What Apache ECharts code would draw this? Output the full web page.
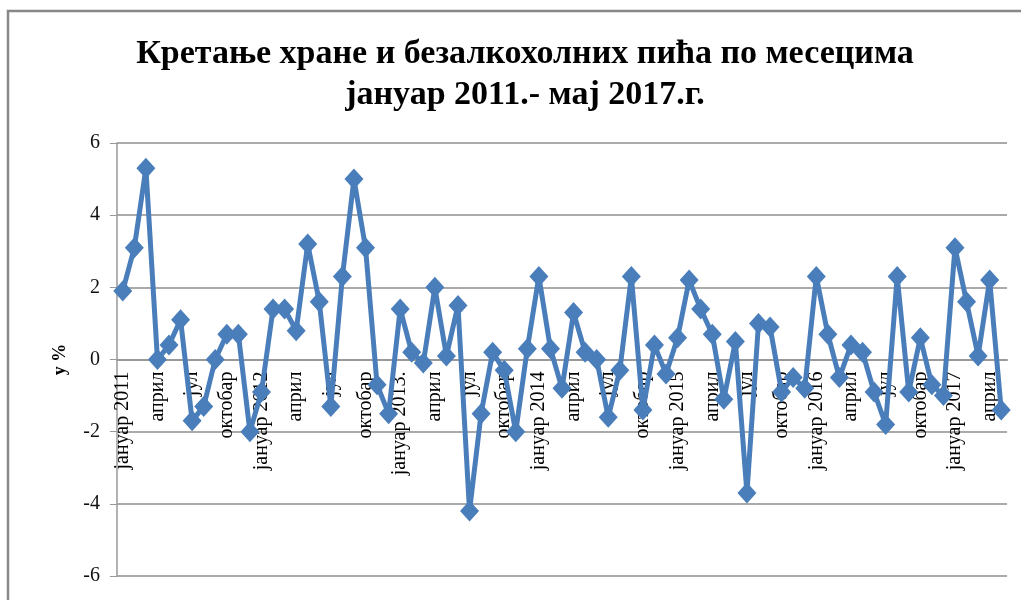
<!DOCTYPE html>
<html lang="sr" style="height: 100%">

<head>
    <meta charset="utf-8">
    <script type="text/javascript" src="https://cdn.jsdelivr.net/npm/echarts@6/dist/echarts.min.js"></script>
</head>

<body style="height: 100%; margin: 0; background: #fff">
    <div id="container" style="width: 1021px; height: 600px"></div>
    <script type="text/javascript">
        var titleText = 'Кретање хране и безалкохолних пића по месецима\nјануар 2011.- мај 2017.г.';
        var yName = 'у %';

        var monthLabels = ['јануар', 'фебруар', 'март', 'април', 'мај', 'јун', 'јул', 'август', 'септембар', 'октобар', 'новембар', 'децембар'];
        var years = ['2011', '2012', '2013.', '2014', '2015', '2016', '2017'];

        // месечне промене, у %
        var v2011 = [1.9, 3.1, 5.3, 0.0, 0.4, 1.1, -1.7, -1.3, 0.0, 0.7, 0.7, -2.0];
        var v2012 = [-0.9, 1.4, 1.4, 0.8, 3.2, 1.6, -1.3, 2.3, 5.0, 3.1, -0.7, -1.5];
        var v2013 = [1.4, 0.2, -0.1, 2.0, 0.1, 1.5, -4.2, -1.5, 0.2, -0.3, -2.0, 0.3];
        var v2014 = [2.3, 0.3, -0.8, 1.3, 0.2, 0.0, -1.6, -0.3, 2.3, -1.4, 0.4, -0.4];
        var v2015 = [0.6, 2.2, 1.4, 0.7, -1.1, 0.5, -3.7, 1.0, 0.9, -0.9, -0.5, -0.8];
        var v2016 = [2.3, 0.7, -0.5, 0.4, 0.2, -0.9, -1.8, 2.3, -0.9, 0.6, -0.7, -1.0];
        var v2017 = [3.1, 1.6, 0.1, 2.2, -1.4];

        var values = [].concat(v2011, v2012, v2013, v2014, v2015, v2016, v2017);
        var categories = [];
        for (var i = 0; i < values.length; i++) {
            var m = i % 12;
            var y = Math.floor(i / 12);
            categories.push(m === 0 ? monthLabels[m] + ' ' + years[y] : monthLabels[m]);
        }

        var serif = '"Liberation Serif", "DejaVu Serif", serif';
        var gridTop = 143, gridBottom = 24;
        var plotH = 600 - gridTop - gridBottom;
        // x оса стоји на нули (Excel), помери је нагоре од дна мреже
        var zeroShift = -plotH / 2;

        var chart = echarts.init(document.getElementById('container'), null, { renderer: 'canvas' });

        var option = {
            backgroundColor: '#fff',
            animation: false,
            title: {
                text: titleText,
                left: 520,
                textAlign: 'center',
                top: 29,
                textStyle: {
                    fontFamily: serif,
                    fontWeight: 'bold',
                    fontSize: 34,
                    lineHeight: 41,
                    color: '#000'
                }
            },
            graphic: [{
                type: 'rect',
                shape: { x: 8, y: 11, width: 1040, height: 620 },
                style: { fill: 'none', stroke: '#888', lineWidth: 2.5 },
                silent: true
            }],
            grid: { left: 117, right: 14, top: gridTop, bottom: gridBottom, containLabel: false, outerBoundsMode: 'none' },
            xAxis: {
                type: 'category',
                data: categories,
                boundaryGap: true,
                offset: zeroShift,
                axisLine: { onZero: false, lineStyle: { color: '#999', width: 2 } },
                axisTick: { show: false },
                axisLabel: {
                    interval: 2,
                    rotate: 90,
                    margin: 12,
                    fontFamily: serif,
                    fontSize: 20,
                    color: '#000'
                },
                splitLine: { show: false }
            },
            yAxis: {
                type: 'value',
                min: -6,
                max: 6,
                interval: 2,
                name: yName,
                nameLocation: 'middle',
                nameGap: 48,
                nameTextStyle: { fontFamily: serif, fontWeight: 'bold', fontSize: 18, color: '#000' },
                axisLine: { show: true, lineStyle: { color: '#999', width: 1.5 } },
                axisTick: { show: true, length: 7, lineStyle: { color: '#999' } },
                axisLabel: { fontFamily: serif, fontSize: 20, color: '#111', margin: 17 },
                splitLine: { lineStyle: { color: '#aaa', width: 2 } }
            },
            series: [{
                type: 'line',
                data: values,
                symbol: 'diamond',
                symbolSize: [19, 21],
                showAllSymbol: true,
                lineStyle: { color: '#4a7ebb', width: 5 },
                itemStyle: { color: '#4a7ebb' }
            }]
        };
        chart.setOption(option);
    </script>
</body>

</html>
